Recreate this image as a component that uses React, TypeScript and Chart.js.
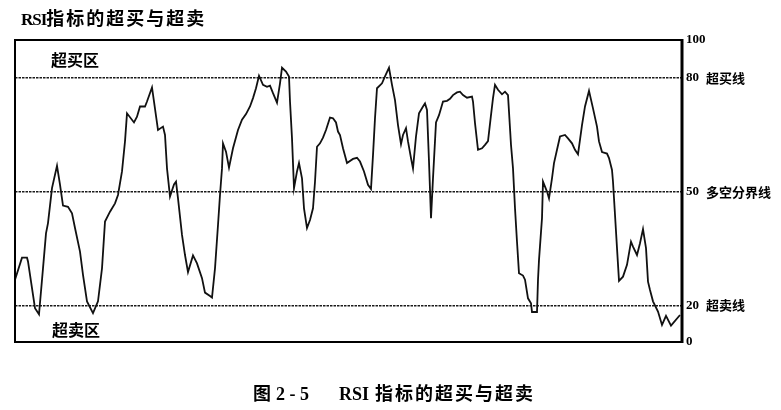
import React, { useEffect, useRef } from "react";
import { Chart, registerables } from "chart.js";

Chart.register(...registerables);

// trading-session index (x) and RSI value (y)
const sessions = [
  0, 7, 12, 13, 20, 24, 28, 31, 33, 37, 42, 45, 48, 53, 57, 60, 65, 68, 72, 78,
  83, 87, 90, 95, 100, 103, 107, 110, 112, 119, 122, 125, 130, 132, 137, 139, 143, 148, 150, 152,
  155, 159, 161, 163, 167, 170, 173, 178, 182, 187, 190, 195, 197, 200, 203, 205, 207, 208, 211, 214,
  218, 223, 227, 231, 235, 238, 241, 244, 248, 252, 255, 258, 262, 265, 267, 271, 274, 275, 277, 279,
  282, 284, 287, 289, 292, 295, 298, 300, 302, 305, 308, 311, 315, 318, 321, 323, 325, 328, 332, 338,
  342, 345, 349, 353, 356, 358, 360, 362, 367, 370, 374, 377, 380, 383, 386, 388, 391, 393, 396, 398,
  401, 404, 408, 410, 412, 414, 416, 418, 421, 424, 428, 432, 435, 438, 442, 445, 448, 452, 457, 458,
  460, 463, 467, 470, 473, 476, 478, 480, 483, 487, 490, 493, 496, 498, 500, 502, 504, 508, 510, 513,
  516, 517, 522, 523, 524, 527, 528, 532, 534, 537, 539, 542, 545, 550, 553, 557, 560, 563, 567, 570,
  574, 578, 582, 584, 587, 592, 594, 597, 598, 600, 602, 604, 608, 612, 616, 618, 622, 625, 628, 631,
  633, 635, 638, 643, 647, 651, 656, 665,
];

const rsi = [
  26.8, 32.6, 32.6, 31.6, 19.3, 17.7, 29.8, 39.0, 41.7, 50.9, 56.8, 51.8, 46.3, 46.0, 44.3, 40.4, 34.2, 28.1, 21.1, 18.0,
  21.1, 29.8, 42.1, 44.7, 46.9, 49.1, 55.3, 63.2, 70.6, 68.2, 69.7, 72.4, 72.4, 73.7, 77.4, 73.7, 66.2, 67.1, 64.9, 56.1,
  48.7, 51.9, 52.6, 48.2, 38.6, 33.3, 28.8, 33.2, 31.1, 27.2, 23.4, 22.5, 22.1, 29.8, 41.2, 49.1, 56.1, 62.7, 60.5, 56.3,
  61.4, 66.2, 68.9, 70.4, 72.4, 74.6, 77.2, 80.5, 78.1, 77.6, 77.9, 75.9, 73.4, 78.5, 82.6, 81.6, 80.3, 73.7, 64.0, 50.9,
  55.3, 57.5, 53.5, 45.6, 40.4, 42.5, 45.6, 52.6, 61.8, 62.7, 64.2, 66.2, 69.5, 69.3, 68.2, 65.8, 64.9, 61.4, 57.5, 58.6,
  58.9, 57.9, 55.3, 51.8, 50.7, 59.6, 69.3, 77.2, 78.5, 80.3, 82.6, 78.1, 74.1, 67.5, 62.5, 64.9, 66.7, 63.2, 58.8, 56.1,
  64.5, 70.6, 72.4, 73.2, 71.5, 57.9, 43.0, 53.5, 68.2, 70.1, 73.7, 73.9, 74.4, 75.4, 76.1, 76.3, 75.4, 74.7, 75.0, 73.7,
  68.0, 61.0, 61.4, 62.3, 63.3, 70.1, 74.6, 78.1, 76.8, 75.6, 76.3, 75.4, 62.3, 56.1, 45.6, 36.8, 28.5, 27.9, 26.8, 21.9,
  20.6, 18.3, 18.3, 26.8, 32.0, 43.0, 52.6, 50.0, 48.2, 53.5, 57.5, 61.0, 64.5, 64.9, 64.0, 62.7, 61.0, 59.8, 67.5, 72.4,
  76.5, 71.9, 67.1, 63.2, 60.4, 60.0, 58.8, 55.7, 52.6, 43.9, 35.1, 26.5, 27.6, 30.7, 36.8, 35.5, 33.3, 36.4, 40.1, 35.1,
  26.3, 24.1, 21.1, 18.4, 14.9, 17.3, 14.7, 17.5,
];

// reference levels and their names
const levelValues = [80, 50, 20];
const levelNames = ["超买线", "多空分界线", "超卖线"];
// axis ends (the printed scale is compressed toward 0 and 100)
const axisBottom = 10.4;
const axisTop = 89.9;
const axisBottomLabel = "0";
const axisTopLabel = "100";
// zone captions: [text, session, value]
const zoneNames = ["超买区", "超卖区"];
const zoneSessions = [60, 61];
const zoneValues = [84.7, 13.6];

const sessionMax = 667;

const title = "指标的超买与超卖";
const caption = "指标的超买与超卖";

export default function App() {
  const ref = useRef<HTMLCanvasElement | null>(null);

  useEffect(() => {
    if (!ref.current) return;
    const decor = {
      id: "decor",
      afterDatasetsDraw(chart: any) {
        const { ctx, chartArea: a, scales } = chart;
        ctx.save();
        ctx.strokeStyle = "#000";
        ctx.lineWidth = 2;
        ctx.beginPath();
        ctx.moveTo(a.right, a.top);
        ctx.lineTo(a.left, a.top);
        ctx.lineTo(a.left, a.bottom);
        ctx.lineTo(a.right, a.bottom);
        ctx.stroke();
        ctx.lineWidth = 3;
        ctx.beginPath();
        ctx.moveTo(a.right, a.top - 1);
        ctx.lineTo(a.right, a.bottom + 1);
        ctx.stroke();

        ctx.fillStyle = "#000";
        ctx.textBaseline = "middle";
        ctx.textAlign = "left";
        ctx.font = "bold 13px 'Noto Sans CJK SC'";
        levelValues.forEach((v, i) => {
          ctx.fillText(levelNames[i], a.right + 24, scales.y.getPixelForValue(v));
        });
        ctx.textAlign = "center";
        ctx.font = "bold 16px 'Noto Sans CJK SC'";
        zoneNames.forEach((t, i) => {
          ctx.fillText(
            t,
            scales.x.getPixelForValue(zoneSessions[i]),
            scales.y.getPixelForValue(zoneValues[i])
          );
        });
        ctx.restore();
      },
    };

    const chart = new Chart(ref.current, {
      type: "line",
      data: {
        datasets: [
          {
            data: sessions.map((s, i) => ({ x: s, y: rsi[i] })),
            borderColor: "#111",
            borderWidth: 1.8,
            pointRadius: 0,
            tension: 0,
            fill: false,
          },
        ],
      },
      options: {
        animation: false,
        responsive: false,
        maintainAspectRatio: false,
        layout: { padding: { left: 15, top: 40, right: 0, bottom: 68 } },
        plugins: { legend: { display: false }, tooltip: { enabled: false } },
        scales: {
          x: { type: "linear", min: 0, max: sessionMax, display: false },
          y: {
            type: "linear",
            position: "right",
            min: axisBottom,
            max: axisTop,
            afterBuildTicks: (s: any) => {
              s.ticks = [axisBottom, ...levelValues.slice().reverse(), axisTop].map((v) => ({ value: v }));
            },
            afterFit: (s: any) => {
              s.width = 99;
            },
            ticks: {
              autoSkip: false,
              padding: 4,
              color: "#000",
              font: { family: "'Liberation Serif'", size: 13, weight: "bold" },
              callback: (v: any) =>
                v === axisBottom ? axisBottomLabel : v === axisTop ? axisTopLabel : String(v),
            },
            grid: {
              drawTicks: false,
              lineWidth: 1.6,
              color: (c: any) =>
                c.tick && levelValues.includes(c.tick.value) ? "#1a1a1a" : "rgba(0,0,0,0)",
            },
            border: { display: false, dash: [2.5, 1] },
          },
        },
      },
      plugins: [decor],
    } as any);
    return () => chart.destroy();
  }, []);

  return (
    <div style={{ position: "fixed", left: 0, top: 0, width: 781, height: 410, background: "#fff" }}>
      <div
        style={{
          position: "absolute",
          left: 21,
          top: 6,
          fontWeight: "bold",
          fontSize: 18,
          lineHeight: "22px",
          whiteSpace: "nowrap",
          color: "#000",
        }}
      >
        <span style={{ fontFamily: "'Liberation Serif'", fontSize: 17, letterSpacing: -1 }}>RSI</span>
        <span style={{ fontFamily: "'Noto Sans CJK SC'", letterSpacing: 2 }}>{title}</span>
      </div>
      <canvas ref={ref} width={781} height={410} style={{ display: "block" }} />
      <div
        style={{
          position: "absolute",
          left: 253,
          top: 381,
          fontWeight: "bold",
          fontSize: 18,
          lineHeight: "22px",
          whiteSpace: "nowrap",
          color: "#000",
        }}
      >
        <span style={{ fontFamily: "'Noto Sans CJK SC'" }}>图</span>
        <span style={{ fontFamily: "'Liberation Serif'", marginLeft: 5 }}>2 - 5</span>
        <span style={{ fontFamily: "'Liberation Serif'", marginLeft: 30 }}>RSI</span>
        <span style={{ fontFamily: "'Noto Sans CJK SC'", marginLeft: 6, letterSpacing: 2 }}>{caption}</span>
      </div>
    </div>
  );
}
